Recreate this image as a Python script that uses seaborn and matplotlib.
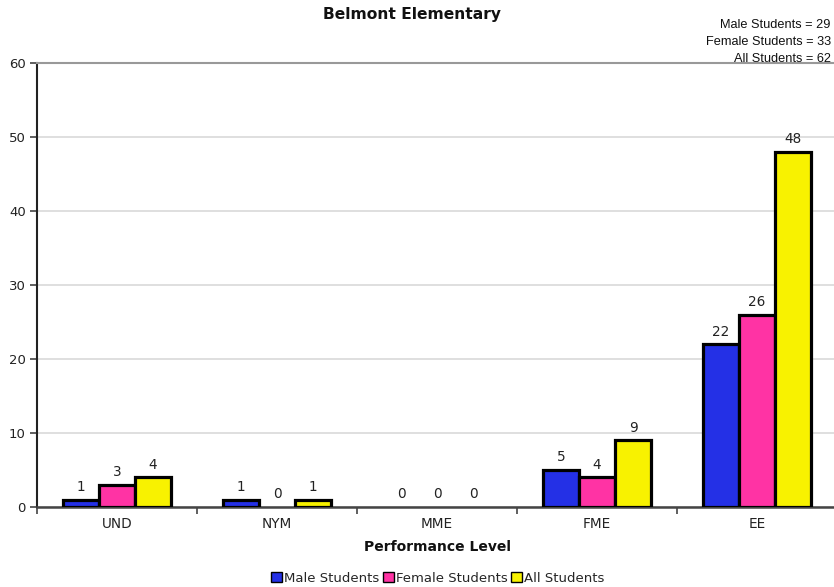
import matplotlib
matplotlib.use("Agg")
import matplotlib.pyplot as plt
import seaborn as sns
import pandas as pd
from matplotlib.ticker import FixedLocator

# Performance levels and student counts per group
levels = ["UND", "NYM", "MME", "FME", "EE"]
male_students = [1, 1, 0, 5, 22]
female_students = [3, 0, 0, 4, 26]
all_students = [4, 1, 0, 9, 48]
series_names = ["Male Students", "Female Students", "All Students"]
series_totals = [29, 33, 62]
y_ticks = [0, 10, 20, 30, 40, 50, 60]

colors = ["#2430E6", "#FF33A4", "#F8F200"]

rows = []
for name, vals in zip(series_names, [male_students, female_students, all_students]):
    for lvl, v in zip(levels, vals):
        rows.append({"Performance Level": lvl, "Count": v, "Group": name})
df = pd.DataFrame(rows)

sns.set_theme(style="white")
plt.rcParams["font.family"] = ["DejaVu Sans"]

fig = plt.figure(figsize=(8.34, 5.87), dpi=100)
ax = fig.add_axes([37 / 834, 80 / 587, 800 / 834, 444 / 587])

sns.barplot(
    data=df, x="Performance Level", y="Count", hue="Group",
    order=levels, hue_order=series_names, palette=colors,
    width=0.675, gap=0, edgecolor="black", linewidth=2.3,
    saturation=1, legend=True, ax=ax, zorder=3,
)

# labels above bars; zero-height bars get no outline
for cont in ax.containers:
    for bar in cont:
        if bar.get_height() == 0:
            bar.set_linewidth(0)
    ax.bar_label(cont, padding=4, fontsize=9.8, color="#222222")

ax.set_xlim(-0.5, 4.5)
ax.set_ylim(0, 60)
ax.set_yticks(y_ticks)
ax.yaxis.grid(True, color="#d9d9d9", linewidth=1.2, zorder=0)
ax.set_axisbelow(True)

ax.xaxis.set_minor_locator(FixedLocator([i - 0.5 for i in range(len(levels) + 1)]))
ax.tick_params(axis="x", which="major", length=0, labelsize=9.8, pad=7, colors="#222222")
ax.tick_params(axis="x", which="minor", bottom=True, length=5, width=1.2, color="#444444")
ax.tick_params(axis="y", which="major", left=True, length=5, width=1.2, color="#444444",
               labelsize=9.5, labelcolor="#222222", pad=3)

ax.spines["right"].set_visible(False)
ax.spines["top"].set_color("#999999")
ax.spines["top"].set_linewidth(1.5)
ax.spines["left"].set_color("#222222")
ax.spines["left"].set_linewidth(1.5)
ax.spines["bottom"].set_color("#444444")
ax.spines["bottom"].set_linewidth(1.8)

ax.set_ylabel("")
ax.set_xlabel("Performance Level", fontsize=10, fontweight="bold", labelpad=7, color="#111111")

fig.text(0.494, 1 - 15 / 587, "Belmont Elementary", ha="center", va="center",
         fontsize=11.2, fontweight="bold", color="#111111")
for i, (name, tot) in enumerate(zip(series_names, series_totals)):
    fig.text(0.996, 1 - (25 + 17 * i) / 587, f"{name} = {tot}", ha="right", va="center",
             fontsize=9.2, family="Liberation Sans", color="#111111")

handles, labels = ax.get_legend_handles_labels()
ax.get_legend().remove()
leg = fig.legend(handles, labels, loc="center", bbox_to_anchor=(0.525, 1 - 578 / 587),
                 ncol=3, frameon=False, fontsize=9.5, handlelength=0.8, handleheight=0.8,
                 handletextpad=0.15, columnspacing=0.3, borderaxespad=0)
for h in leg.legend_handles:
    h.set_linewidth(1)
    h.set_edgecolor("black")

fig.savefig("out.png", dpi=100)
